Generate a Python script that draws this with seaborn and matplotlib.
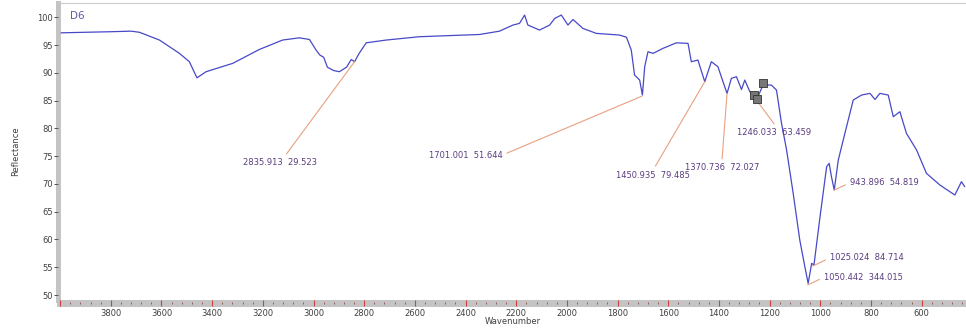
import matplotlib
matplotlib.use("Agg")
import matplotlib.pyplot as plt
import seaborn as sns
import numpy as np
import pandas as pd
from matplotlib.ticker import MultipleLocator, FixedLocator

# ---- data ----
wavenumber = [3996, 3900, 3800, 3720, 3687, 3608, 3529, 3490, 3460, 3424, 3319, 3214,
              3122, 3056, 3016, 2990, 2975, 2960, 2945, 2920, 2898, 2870, 2851, 2838,
              2820, 2792, 2713, 2582, 2345, 2266, 2213, 2187, 2167, 2154, 2108, 2068,
              2048, 2022, 1996, 1976, 1937, 1884, 1792, 1765, 1746, 1733, 1713, 1702,
              1693, 1680, 1660, 1621, 1568, 1522, 1509, 1483, 1456, 1430, 1404, 1384,
              1368, 1351, 1331, 1311, 1298, 1278, 1252, 1226, 1193, 1173, 1153, 1133,
              1107, 1081, 1061, 1048, 1034, 1025, 1001, 975, 965, 956, 945, 929, 903,
              870, 837, 804, 784, 765, 732, 712, 686, 660, 620, 581, 528, 469, 443, 430]
reflectance = [97.2, 97.3, 97.4, 97.5, 97.3, 95.9, 93.5, 92.0, 89.1, 90.2, 91.7, 94.2,
               95.9, 96.3, 96.0, 94.1, 93.2, 92.8, 91.0, 90.4, 90.2, 91.0, 92.4, 92.0,
               93.5, 95.4, 95.9, 96.5, 96.9, 97.5, 98.6, 98.9, 100.4, 98.6, 97.7, 98.6,
               99.8, 100.4, 98.6, 99.6, 98.0, 97.1, 96.8, 96.4, 94.1, 89.6, 88.7, 86.0,
               91.1, 93.8, 93.5, 94.4, 95.4, 95.3, 92.0, 92.3, 88.4, 92.0, 91.1, 88.4,
               86.3, 89.0, 89.3, 87.0, 88.7, 86.6, 85.1, 87.8, 87.8, 86.9, 80.9, 76.1,
               68.3, 59.9, 55.1, 52.1, 55.7, 55.4, 64.1, 73.1, 73.7, 71.3, 68.9, 74.3, 79.1,
               85.1, 86.0, 86.3, 85.2, 86.3, 86.0, 82.1, 83.0, 79.1, 76.1, 71.9, 69.8, 68.0, 70.4, 69.5]

x_ticks = [3800, 3600, 3400, 3200, 3000, 2800, 2600, 2400, 2200, 2000, 1800, 1600, 1400, 1200, 1000, 800, 600]
y_ticks = [50, 55, 60, 65, 70, 75, 80, 85, 90, 95, 100]

peak_labels = ["2835.913  29.523", "1701.001  51.644", "1450.935  79.485", "1370.736  72.027",
               "1246.033  63.459", "943.896  54.819", "1025.024  84.714", "1050.442  344.015"]
peak_wn = [2838, 1704, 1456, 1368, 1252, 945, 1030, 1050]
peak_val = [92.0, 85.8, 88.4, 86.3, 85.1, 68.9, 55.2, 51.8]
label_wn = [3134, 2400, 1661, 1389, 1184, 883, 962, 986]
label_val = [73.8, 75.2, 71.6, 72.9, 79.2, 70.2, 56.7, 53.2]
label_ha = ["center", "center", "center", "center", "center", "left", "left", "left"]
label_rel = [(0.55, 1.0), (1.0, 0.5), (0.5, 1.0), (0.5, 1.0), (0.55, 1.0), (0.0, 0.5), (0.0, 0.5), (0.0, 0.5)]

marker_wn = [1262, 1248, 1226]
marker_val = [86.0, 85.3, 88.2]

df = pd.DataFrame({"Wavenumber": wavenumber, "Reflectance": reflectance})

sns.set_style("white")
plt.rcParams["font.family"] = ["DejaVu Sans"]

W, H = 966, 329
fig = plt.figure(figsize=(W / 100, H / 100), dpi=100)
left_px, right_px, top_px, bot_px = 60, 966, 3, 300
ax = fig.add_axes([left_px / W, 1 - bot_px / H, (right_px - left_px) / W, (bot_px - top_px) / H])
ax.set_axisbelow(False)

sns.lineplot(data=df, x="Wavenumber", y="Reflectance", ax=ax, color="#4848c8", lw=0.9)
ax.scatter(marker_wn, marker_val, marker="s", s=26, c="#777777", edgecolors="#333333",
           linewidths=0.6, zorder=5)

ax.set_xlim(4000.5, 425)
ax.set_ylim(49.1, 102.57)

ax.xaxis.set_major_locator(FixedLocator([4000] + x_ticks))
ax.set_xticklabels([""] + [str(t) for t in x_ticks])
ax.xaxis.set_minor_locator(MultipleLocator(40))
ax.set_yticks(y_ticks)
ax.set_yticklabels([str(t) for t in y_ticks])

label_font = 6.0
ax.tick_params(axis="x", which="both", bottom=True, top=False)
ax.tick_params(axis="y", which="both", left=True, right=False)
ax.tick_params(axis="x", which="major", direction="inout", length=5, width=0.8, color="#d04040",
               labelsize=label_font, labelcolor="#404040", pad=1.5)
ax.tick_params(axis="x", which="minor", direction="inout", length=2, width=0.6, color="#904848")
ax.tick_params(axis="y", which="major", direction="out", length=2.8, width=0.7, color="#555555",
               labelsize=label_font, labelcolor="#404040", pad=0.5)

ax.spines["right"].set_visible(False)
ax.spines["top"].set_color("#cccccc")
ax.spines["top"].set_linewidth(0.8)
for side, lw_pt in (("left", 3.6), ("bottom", 5.0)):
    sp = ax.spines[side]
    sp.set_color("#c4c4c4")
    sp.set_linewidth(lw_pt)
    sp.set_position(("outward", lw_pt / 2))
    sp.set_zorder(0.1)

ax.set_xlabel("Wavenumber", fontsize=6.0, color="#404040", labelpad=-1)
ax.set_ylabel("Reflectance", fontsize=6.0, color="#404040", labelpad=12)
ax.grid(False)

ax.text(0.011, 0.955, "D6", transform=ax.transAxes, fontsize=7.5, color="#6a58b0", va="center", ha="left")

for lab, pw, pv, lw_, lv, ha, rel in zip(peak_labels, peak_wn, peak_val, label_wn, label_val, label_ha, label_rel):
    ax.annotate(lab, xy=(pw, pv), xytext=(lw_, lv), ha=ha, va="center", fontsize=6.0,
                color="#5a3c80",
                arrowprops=dict(arrowstyle="-", color="#e8a080", lw=0.8, relpos=rel,
                                shrinkA=1, shrinkB=0))

fig.savefig("out.png", dpi=100)
